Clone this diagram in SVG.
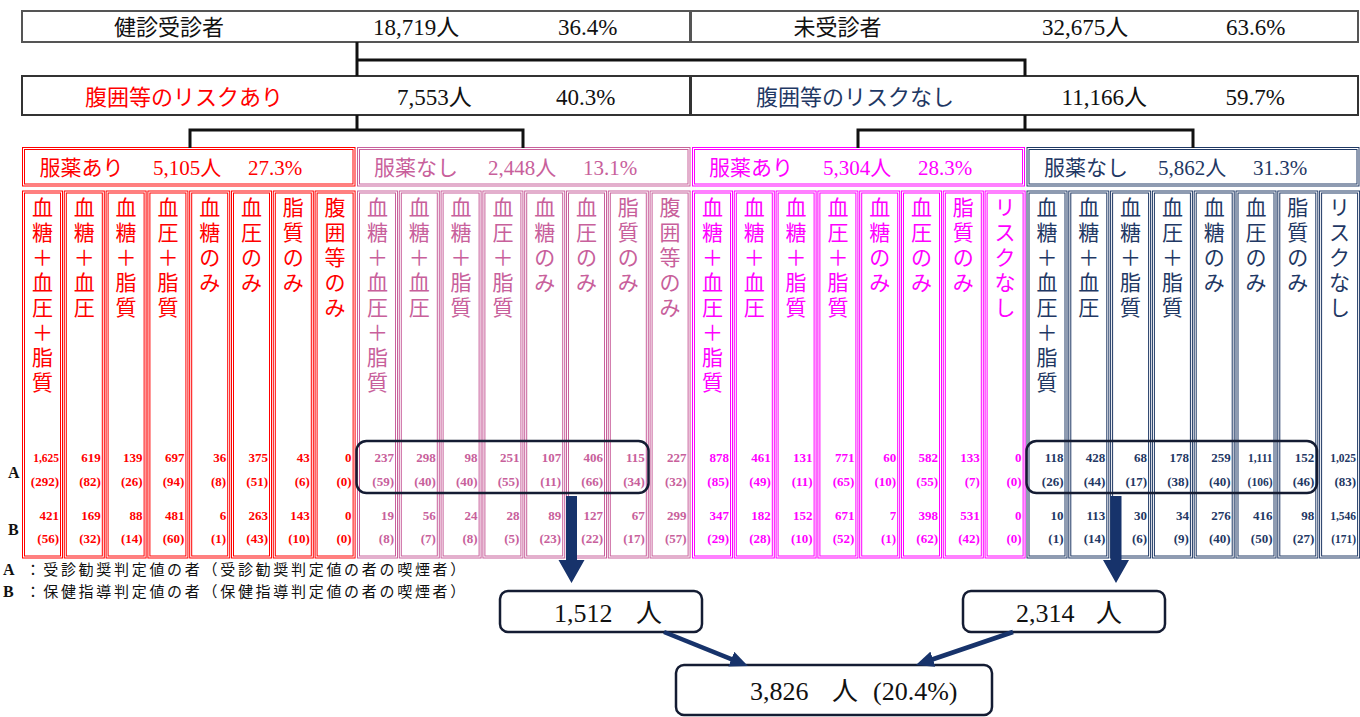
<svg xmlns="http://www.w3.org/2000/svg" width="1360" height="717" viewBox="0 0 1360 717">
<style>
text{font-family:"Noto Sans CJK JP",sans-serif}
.num{font-family:"Liberation Serif","Noto Sans CJK JP",serif}
.big{font-size:22px;fill:#111}
.nb{font-size:23px;fill:#111}
.hd{font-size:21px}
.hn{font-size:21px}
.v{font-size:21px;text-anchor:middle}
.d{font-family:"Liberation Serif",serif;font-weight:bold;font-size:13px;text-anchor:end}
.sm{font-size:11.5px}
.r{fill:#FF0000}.p{fill:#C8609B}.m{fill:#FF00FF}.n{fill:#1F3864}
.fr{fill:none;stroke-width:1}
.sr{stroke:#FF0000}.sp{stroke:#C8609B}.sm2{stroke:#FF00FF}.sn{stroke:#1F3864}
.tb{fill:#fff;stroke:#555;stroke-width:2}
.tree{fill:none;stroke:#111;stroke-width:3}
.hl{fill:none;stroke:#141C33;stroke-width:2.5}
.rb{fill:#fff;stroke:#141C33;stroke-width:2.5}
.ar{fill:#17336B}
.ab{font-family:"Liberation Serif",serif;font-weight:bold;font-size:16px;fill:#111}
.lg{font-size:15px;fill:#111;letter-spacing:2.7px}
.bx{font-size:26px;fill:#111}
</style>
<defs>
<marker id="ah" viewBox="0 0 18 16" refX="4" refY="8" markerWidth="18" markerHeight="16" markerUnits="userSpaceOnUse" orient="auto"><path d="M0,0 L18,8 L0,16 Z" fill="#17336B"/></marker>
</defs>

<g id="jushin">
<rect class="tb" x="22" y="11" width="668" height="31"/>
<text class="big" x="114" y="35">健診受診者</text>
<text class="num nb" x="373" y="35">18,719人</text>
<text class="num nb" x="558" y="35">36.4%</text>
</g>
<g id="mijushin">
<rect class="tb" x="691" y="11" width="667" height="31"/>
<text class="big" x="793.5" y="35">未受診者</text>
<text class="num nb" x="1042" y="35">32,675人</text>
<text class="num nb" x="1226" y="35">63.6%</text>
</g>
<g id="risk-ari">
<rect class="tb" x="22" y="76" width="668" height="39" style="stroke:#333"/>
<text class="big r" x="85" y="105">腹囲等のリスクあり</text>
<text class="num nb" x="397" y="105">7,553人</text>
<text class="num nb" x="556" y="105">40.3%</text>
</g>
<g id="risk-nashi">
<rect class="tb" x="691" y="76" width="667" height="39" style="stroke:#333"/>
<text class="big n" x="756" y="105">腹囲等のリスクなし</text>
<text class="num nb" x="1061.5" y="105">11,166人</text>
<text class="num nb" x="1225.5" y="105">59.7%</text>
</g>

<g id="h1">
<rect class="fr sr" x="22.5" y="147.5" width="332.5" height="38.5"/><rect class="fr sr" x="24.5" y="149.5" width="328.5" height="34.5"/>
<text class="hd r" x="39.5" y="175">服薬あり</text><text class="num hn r" x="153" y="175">5,105人</text><text class="num hn r" x="248" y="175">27.3%</text>
</g>
<g id="h2">
<rect class="fr sp" x="357.5" y="147.5" width="332.5" height="38.5"/><rect class="fr sp" x="359.5" y="149.5" width="328.5" height="34.5"/>
<text class="hd p" x="374" y="175">服薬なし</text><text class="num hn p" x="488" y="175">2,448人</text><text class="num hn p" x="583" y="175">13.1%</text>
</g>
<g id="h3">
<rect class="fr sm2" x="692.5" y="147.5" width="332" height="38.5"/><rect class="fr sm2" x="694.5" y="149.5" width="328" height="34.5"/>
<text class="hd m" x="709" y="175">服薬あり</text><text class="num hn m" x="823" y="175">5,304人</text><text class="num hn m" x="918" y="175">28.3%</text>
</g>
<g id="h4">
<rect class="fr sn" x="1027" y="147.5" width="332" height="38.5"/><rect class="fr sn" x="1029" y="149.5" width="328" height="34.5"/>
<text class="hd n" x="1044" y="175">服薬なし</text><text class="num hn n" x="1158" y="175">5,862人</text><text class="num hn n" x="1253" y="175">31.3%</text>
</g>

<!-- group 1 columns -->
<g id="c1-1"><rect class="fr sr" x="22.5" y="191" width="40" height="367"/><rect class="fr sr" x="24.5" y="193" width="36" height="363"/>
<text class="v r" x="42.5 42.5 42.5 42.5 42.5 42.5 42.5 42.5" y="215 240 265 290 315 340 365 390">血糖＋血圧＋脂質</text>
<text class="d sm r" x="59" y="462">1,625</text><text class="d r" x="59" y="486">(292)</text><text class="d r" x="59" y="520">421</text><text class="d r" x="59" y="543">(56)</text></g>
<g id="c1-2"><rect class="fr sr" x="64.3" y="191" width="40" height="367"/><rect class="fr sr" x="66.3" y="193" width="36" height="363"/>
<text class="v r" x="84.3 84.3 84.3 84.3 84.3" y="215 240 265 290 315">血糖＋血圧</text>
<text class="d r" x="100.8" y="462">619</text><text class="d r" x="100.8" y="486">(82)</text><text class="d r" x="100.8" y="520">169</text><text class="d r" x="100.8" y="543">(32)</text></g>
<g id="c1-3"><rect class="fr sr" x="106.1" y="191" width="40" height="367"/><rect class="fr sr" x="108.1" y="193" width="36" height="363"/>
<text class="v r" x="126.1 126.1 126.1 126.1 126.1" y="215 240 265 290 315">血糖＋脂質</text>
<text class="d r" x="142.6" y="462">139</text><text class="d r" x="142.6" y="486">(26)</text><text class="d r" x="142.6" y="520">88</text><text class="d r" x="142.6" y="543">(14)</text></g>
<g id="c1-4"><rect class="fr sr" x="147.9" y="191" width="40" height="367"/><rect class="fr sr" x="149.9" y="193" width="36" height="363"/>
<text class="v r" x="167.9 167.9 167.9 167.9 167.9" y="215 240 265 290 315">血圧＋脂質</text>
<text class="d r" x="184.4" y="462">697</text><text class="d r" x="184.4" y="486">(94)</text><text class="d r" x="184.4" y="520">481</text><text class="d r" x="184.4" y="543">(60)</text></g>
<g id="c1-5"><rect class="fr sr" x="189.7" y="191" width="40" height="367"/><rect class="fr sr" x="191.7" y="193" width="36" height="363"/>
<text class="v r" x="209.7 209.7 209.7 209.7" y="215 240 265 290">血糖のみ</text>
<text class="d r" x="226.2" y="462">36</text><text class="d r" x="226.2" y="486">(8)</text><text class="d r" x="226.2" y="520">6</text><text class="d r" x="226.2" y="543">(1)</text></g>
<g id="c1-6"><rect class="fr sr" x="231.5" y="191" width="40" height="367"/><rect class="fr sr" x="233.5" y="193" width="36" height="363"/>
<text class="v r" x="251.5 251.5 251.5 251.5" y="215 240 265 290">血圧のみ</text>
<text class="d r" x="268" y="462">375</text><text class="d r" x="268" y="486">(51)</text><text class="d r" x="268" y="520">263</text><text class="d r" x="268" y="543">(43)</text></g>
<g id="c1-7"><rect class="fr sr" x="273.3" y="191" width="40" height="367"/><rect class="fr sr" x="275.3" y="193" width="36" height="363"/>
<text class="v r" x="293.3 293.3 293.3 293.3" y="215 240 265 290">脂質のみ</text>
<text class="d r" x="309.8" y="462">43</text><text class="d r" x="309.8" y="486">(6)</text><text class="d r" x="309.8" y="520">143</text><text class="d r" x="309.8" y="543">(10)</text></g>
<g id="c1-8"><rect class="fr sr" x="315.1" y="191" width="40" height="367"/><rect class="fr sr" x="317.1" y="193" width="36" height="363"/>
<text class="v r" x="335.1 335.1 335.1 335.1 335.1" y="215 240 265 290 315">腹囲等のみ</text>
<text class="d r" x="351.6" y="462">0</text><text class="d r" x="351.6" y="486">(0)</text><text class="d r" x="351.6" y="520">0</text><text class="d r" x="351.6" y="543">(0)</text></g>

<!-- group 2 columns -->
<g id="c2-1"><rect class="fr sp" x="357.5" y="191" width="40" height="367"/><rect class="fr sp" x="359.5" y="193" width="36" height="363"/>
<text class="v p" x="377.5 377.5 377.5 377.5 377.5 377.5 377.5 377.5" y="215 240 265 290 315 340 365 390">血糖＋血圧＋脂質</text>
<text class="d p" x="394" y="462">237</text><text class="d p" x="394" y="486">(59)</text><text class="d p" x="394" y="520">19</text><text class="d p" x="394" y="543">(8)</text></g>
<g id="c2-2"><rect class="fr sp" x="399.3" y="191" width="40" height="367"/><rect class="fr sp" x="401.3" y="193" width="36" height="363"/>
<text class="v p" x="419.3 419.3 419.3 419.3 419.3" y="215 240 265 290 315">血糖＋血圧</text>
<text class="d p" x="435.8" y="462">298</text><text class="d p" x="435.8" y="486">(40)</text><text class="d p" x="435.8" y="520">56</text><text class="d p" x="435.8" y="543">(7)</text></g>
<g id="c2-3"><rect class="fr sp" x="441.1" y="191" width="40" height="367"/><rect class="fr sp" x="443.1" y="193" width="36" height="363"/>
<text class="v p" x="461.1 461.1 461.1 461.1 461.1" y="215 240 265 290 315">血糖＋脂質</text>
<text class="d p" x="477.6" y="462">98</text><text class="d p" x="477.6" y="486">(40)</text><text class="d p" x="477.6" y="520">24</text><text class="d p" x="477.6" y="543">(8)</text></g>
<g id="c2-4"><rect class="fr sp" x="482.9" y="191" width="40" height="367"/><rect class="fr sp" x="484.9" y="193" width="36" height="363"/>
<text class="v p" x="502.9 502.9 502.9 502.9 502.9" y="215 240 265 290 315">血圧＋脂質</text>
<text class="d p" x="519.4" y="462">251</text><text class="d p" x="519.4" y="486">(55)</text><text class="d p" x="519.4" y="520">28</text><text class="d p" x="519.4" y="543">(5)</text></g>
<g id="c2-5"><rect class="fr sp" x="524.7" y="191" width="40" height="367"/><rect class="fr sp" x="526.7" y="193" width="36" height="363"/>
<text class="v p" x="544.7 544.7 544.7 544.7" y="215 240 265 290">血糖のみ</text>
<text class="d p" x="561.2" y="462">107</text><text class="d p" x="561.2" y="486">(11)</text><text class="d p" x="561.2" y="520">89</text><text class="d p" x="561.2" y="543">(23)</text></g>
<g id="c2-6"><rect class="fr sp" x="566.5" y="191" width="40" height="367"/><rect class="fr sp" x="568.5" y="193" width="36" height="363"/>
<text class="v p" x="586.5 586.5 586.5 586.5" y="215 240 265 290">血圧のみ</text>
<text class="d p" x="603" y="462">406</text><text class="d p" x="603" y="486">(66)</text><text class="d p" x="603" y="520">127</text><text class="d p" x="603" y="543">(22)</text></g>
<g id="c2-7"><rect class="fr sp" x="608.3" y="191" width="40" height="367"/><rect class="fr sp" x="610.3" y="193" width="36" height="363"/>
<text class="v p" x="628.3 628.3 628.3 628.3" y="215 240 265 290">脂質のみ</text>
<text class="d p" x="644.8" y="462">115</text><text class="d p" x="644.8" y="486">(34)</text><text class="d p" x="644.8" y="520">67</text><text class="d p" x="644.8" y="543">(17)</text></g>
<g id="c2-8"><rect class="fr sp" x="650.1" y="191" width="40" height="367"/><rect class="fr sp" x="652.1" y="193" width="36" height="363"/>
<text class="v p" x="670.1 670.1 670.1 670.1 670.1" y="215 240 265 290 315">腹囲等のみ</text>
<text class="d p" x="686.6" y="462">227</text><text class="d p" x="686.6" y="486">(32)</text><text class="d p" x="686.6" y="520">299</text><text class="d p" x="686.6" y="543">(57)</text></g>

<!-- group 3 columns -->
<g id="c3-1"><rect class="fr sm2" x="692.5" y="191" width="40" height="367"/><rect class="fr sm2" x="694.5" y="193" width="36" height="363"/>
<text class="v m" x="712.5 712.5 712.5 712.5 712.5 712.5 712.5 712.5" y="215 240 265 290 315 340 365 390">血糖＋血圧＋脂質</text>
<text class="d m" x="729" y="462">878</text><text class="d m" x="729" y="486">(85)</text><text class="d m" x="729" y="520">347</text><text class="d m" x="729" y="543">(29)</text></g>
<g id="c3-2"><rect class="fr sm2" x="734.3" y="191" width="40" height="367"/><rect class="fr sm2" x="736.3" y="193" width="36" height="363"/>
<text class="v m" x="754.3 754.3 754.3 754.3 754.3" y="215 240 265 290 315">血糖＋血圧</text>
<text class="d m" x="770.8" y="462">461</text><text class="d m" x="770.8" y="486">(49)</text><text class="d m" x="770.8" y="520">182</text><text class="d m" x="770.8" y="543">(28)</text></g>
<g id="c3-3"><rect class="fr sm2" x="776.1" y="191" width="40" height="367"/><rect class="fr sm2" x="778.1" y="193" width="36" height="363"/>
<text class="v m" x="796.1 796.1 796.1 796.1 796.1" y="215 240 265 290 315">血糖＋脂質</text>
<text class="d m" x="812.6" y="462">131</text><text class="d m" x="812.6" y="486">(11)</text><text class="d m" x="812.6" y="520">152</text><text class="d m" x="812.6" y="543">(10)</text></g>
<g id="c3-4"><rect class="fr sm2" x="817.9" y="191" width="40" height="367"/><rect class="fr sm2" x="819.9" y="193" width="36" height="363"/>
<text class="v m" x="837.9 837.9 837.9 837.9 837.9" y="215 240 265 290 315">血圧＋脂質</text>
<text class="d m" x="854.4" y="462">771</text><text class="d m" x="854.4" y="486">(65)</text><text class="d m" x="854.4" y="520">671</text><text class="d m" x="854.4" y="543">(52)</text></g>
<g id="c3-5"><rect class="fr sm2" x="859.7" y="191" width="40" height="367"/><rect class="fr sm2" x="861.7" y="193" width="36" height="363"/>
<text class="v m" x="879.7 879.7 879.7 879.7" y="215 240 265 290">血糖のみ</text>
<text class="d m" x="896.2" y="462">60</text><text class="d m" x="896.2" y="486">(10)</text><text class="d m" x="896.2" y="520">7</text><text class="d m" x="896.2" y="543">(1)</text></g>
<g id="c3-6"><rect class="fr sm2" x="901.5" y="191" width="40" height="367"/><rect class="fr sm2" x="903.5" y="193" width="36" height="363"/>
<text class="v m" x="921.5 921.5 921.5 921.5" y="215 240 265 290">血圧のみ</text>
<text class="d m" x="938" y="462">582</text><text class="d m" x="938" y="486">(55)</text><text class="d m" x="938" y="520">398</text><text class="d m" x="938" y="543">(62)</text></g>
<g id="c3-7"><rect class="fr sm2" x="943.3" y="191" width="40" height="367"/><rect class="fr sm2" x="945.3" y="193" width="36" height="363"/>
<text class="v m" x="963.3 963.3 963.3 963.3" y="215 240 265 290">脂質のみ</text>
<text class="d m" x="979.8" y="462">133</text><text class="d m" x="979.8" y="486">(7)</text><text class="d m" x="979.8" y="520">531</text><text class="d m" x="979.8" y="543">(42)</text></g>
<g id="c3-8"><rect class="fr sm2" x="985.1" y="191" width="40" height="367"/><rect class="fr sm2" x="987.1" y="193" width="36" height="363"/>
<text class="v m" x="1005.1 1005.1 1005.1 1005.1 1005.1" y="215 240 265 290 315">リスクなし</text>
<text class="d m" x="1021.6" y="462">0</text><text class="d m" x="1021.6" y="486">(0)</text><text class="d m" x="1021.6" y="520">0</text><text class="d m" x="1021.6" y="543">(0)</text></g>

<!-- group 4 columns -->
<g id="c4-1"><rect class="fr sn" x="1027" y="191" width="40" height="367"/><rect class="fr sn" x="1029" y="193" width="36" height="363"/>
<text class="v n" x="1047 1047 1047 1047 1047 1047 1047 1047" y="215 240 265 290 315 340 365 390">血糖＋血圧＋脂質</text>
<text class="d n" x="1063.5" y="462">118</text><text class="d n" x="1063.5" y="486">(26)</text><text class="d n" x="1063.5" y="520">10</text><text class="d n" x="1063.5" y="543">(1)</text></g>
<g id="c4-2"><rect class="fr sn" x="1068.8" y="191" width="40" height="367"/><rect class="fr sn" x="1070.8" y="193" width="36" height="363"/>
<text class="v n" x="1088.8 1088.8 1088.8 1088.8 1088.8" y="215 240 265 290 315">血糖＋血圧</text>
<text class="d n" x="1105.3" y="462">428</text><text class="d n" x="1105.3" y="486">(44)</text><text class="d n" x="1105.3" y="520">113</text><text class="d n" x="1105.3" y="543">(14)</text></g>
<g id="c4-3"><rect class="fr sn" x="1110.6" y="191" width="40" height="367"/><rect class="fr sn" x="1112.6" y="193" width="36" height="363"/>
<text class="v n" x="1130.6 1130.6 1130.6 1130.6 1130.6" y="215 240 265 290 315">血糖＋脂質</text>
<text class="d n" x="1147.1" y="462">68</text><text class="d n" x="1147.1" y="486">(17)</text><text class="d n" x="1147.1" y="520">30</text><text class="d n" x="1147.1" y="543">(6)</text></g>
<g id="c4-4"><rect class="fr sn" x="1152.4" y="191" width="40" height="367"/><rect class="fr sn" x="1154.4" y="193" width="36" height="363"/>
<text class="v n" x="1172.4 1172.4 1172.4 1172.4 1172.4" y="215 240 265 290 315">血圧＋脂質</text>
<text class="d n" x="1188.9" y="462">178</text><text class="d n" x="1188.9" y="486">(38)</text><text class="d n" x="1188.9" y="520">34</text><text class="d n" x="1188.9" y="543">(9)</text></g>
<g id="c4-5"><rect class="fr sn" x="1194.2" y="191" width="40" height="367"/><rect class="fr sn" x="1196.2" y="193" width="36" height="363"/>
<text class="v n" x="1214.2 1214.2 1214.2 1214.2" y="215 240 265 290">血糖のみ</text>
<text class="d n" x="1230.7" y="462">259</text><text class="d n" x="1230.7" y="486">(40)</text><text class="d n" x="1230.7" y="520">276</text><text class="d n" x="1230.7" y="543">(40)</text></g>
<g id="c4-6"><rect class="fr sn" x="1236" y="191" width="40" height="367"/><rect class="fr sn" x="1238" y="193" width="36" height="363"/>
<text class="v n" x="1256 1256 1256 1256" y="215 240 265 290">血圧のみ</text>
<text class="d sm n" x="1272.5" y="462">1,111</text><text class="d sm n" x="1272.5" y="486">(106)</text><text class="d n" x="1272.5" y="520">416</text><text class="d n" x="1272.5" y="543">(50)</text></g>
<g id="c4-7"><rect class="fr sn" x="1277.8" y="191" width="40" height="367"/><rect class="fr sn" x="1279.8" y="193" width="36" height="363"/>
<text class="v n" x="1297.8 1297.8 1297.8 1297.8" y="215 240 265 290">脂質のみ</text>
<text class="d n" x="1314.3" y="462">152</text><text class="d n" x="1314.3" y="486">(46)</text><text class="d n" x="1314.3" y="520">98</text><text class="d n" x="1314.3" y="543">(27)</text></g>
<g id="c4-8"><rect class="fr sn" x="1319.6" y="191" width="40" height="367"/><rect class="fr sn" x="1321.6" y="193" width="36" height="363"/>
<text class="v n" x="1339.6 1339.6 1339.6 1339.6 1339.6" y="215 240 265 290 315">リスクなし</text>
<text class="d sm n" x="1356.1" y="462">1,025</text><text class="d n" x="1356.1" y="486">(83)</text><text class="d sm n" x="1356.1" y="520">1,546</text><text class="d sm n" x="1356.1" y="543">(171)</text></g>

<g id="labels-ab">
<text class="ab" x="8" y="478">A</text>
<text class="ab" x="8" y="535">B</text>
</g>

<g id="highlight-1"><rect class="hl" x="356.5" y="441" width="292" height="52" rx="10"/></g>
<g id="highlight-2"><rect class="hl" x="1026.5" y="441" width="290.5" height="52" rx="10"/></g>

<g id="legend">
<text class="ab" x="3" y="575">A</text>
<text class="lg" x="25.5" y="575">：受診勧奨判定値の者（受診勧奨判定値の者の喫煙者）</text>
<text class="ab" x="3" y="597">B</text>
<text class="lg" x="25.5" y="597">：保健指導判定値の者（保健指導判定値の者の喫煙者）</text>
</g>

<g id="box-1512"><rect class="rb" x="500" y="591" width="202" height="41" rx="8"/>
<text class="num bx" x="554" y="622">1,512<tspan x="636">人</tspan></text></g>
<g id="box-2314"><rect class="rb" x="963" y="591" width="202" height="41" rx="8"/>
<text class="num bx" x="1016" y="622">2,314<tspan x="1096">人</tspan></text></g>
<g id="box-3826"><rect class="rb" x="676" y="665" width="316" height="50" rx="8"/>
<text class="num bx" x="750" y="700">3,826<tspan x="832">人</tspan><tspan x="873">(20.4%)</tspan></text></g>

<g id="connectors">
<path class="tree" d="M357,42 V76 M357,60 H1025 V76"/>
<path class="tree" d="M357,115 V130 M190,148 V130 H523 V148"/>
<path class="tree" d="M1025,115 V130 M858,148 V130 H1193 V148"/>
<path class="ar" d="M566,496 H577 V560 H584.5 L571.5,583 L558.5,560 H566 Z"/>
<path class="ar" d="M1110.5,496 H1121.5 V560 H1129 L1116,583 L1103,560 H1110.5 Z"/>
<line x1="664" y1="632" x2="735" y2="660.7" stroke="#17336B" stroke-width="4.5" marker-end="url(#ah)"/>
<line x1="1013" y1="632" x2="929.2" y2="660.5" stroke="#17336B" stroke-width="4.5" marker-end="url(#ah)"/>
</g>
</svg>
